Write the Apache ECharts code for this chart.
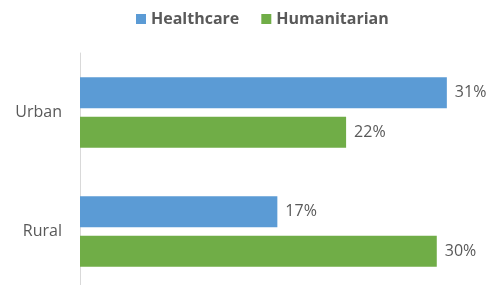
<!DOCTYPE html>
<html>
<head>
<meta charset="utf-8">
<script src="https://cdn.jsdelivr.net/npm/echarts@6/dist/echarts.min.js"></script>
<style>
html,body{margin:0;padding:0;background:#fff;}
#chart{width:489px;height:285px;}
</style>
</head>
<body>
<div id="chart"></div>
<script>
var categories = ['Urban', 'Rural'];
// shown rounded to whole percent, as in the source
var healthcare = [30.95, 16.65];
var humanitarian = [22.45, 30.1];

var chart = echarts.init(document.getElementById('chart'));

var labelStyle = {
    show: true,
    position: 'right',
    distance: 8,
    color: '#595959',
    fontSize: 16,
    fontFamily: 'Open Sans',
    formatter: function (p) {
        return Math.round(p.value) + '%';
    }
};

option = {
    animation: false,
    legend: {
        top: 6,
        left: 131,
        itemWidth: 10,
        itemHeight: 10,
        itemGap: 22,
        icon: 'rect',
        textStyle: {
            color: '#595959',
            fontSize: 16,
            fontWeight: 'bold',
            fontFamily: 'Open Sans'
        },
        data: ['Healthcare', 'Humanitarian']
    },
    grid: {
        left: 80,
        top: 53,
        width: 403,
        height: 238,
        outerBoundsMode: 'none'
    },
    xAxis: {
        type: 'value',
        min: 0,
        max: 34,
        show: false
    },
    yAxis: {
        type: 'category',
        inverse: true,
        data: categories,
        axisLine: {
            show: true,
            lineStyle: {color: '#d9d9d9', width: 1}
        },
        axisTick: {show: false},
        axisLabel: {
            color: '#595959',
            fontSize: 16,
            fontFamily: 'Open Sans',
            margin: 18
        }
    },
    series: [
        {
            name: 'Healthcare',
            type: 'bar',
            data: healthcare,
            barWidth: 31,
            barGap: '27%',
            itemStyle: {color: '#5b9bd5'},
            label: labelStyle
        },
        {
            name: 'Humanitarian',
            type: 'bar',
            data: humanitarian,
            barWidth: 31,
            barGap: '27%',
            itemStyle: {color: '#70ad47'},
            label: labelStyle
        }
    ]
};
chart.setOption(option);
</script>
</body>
</html>
